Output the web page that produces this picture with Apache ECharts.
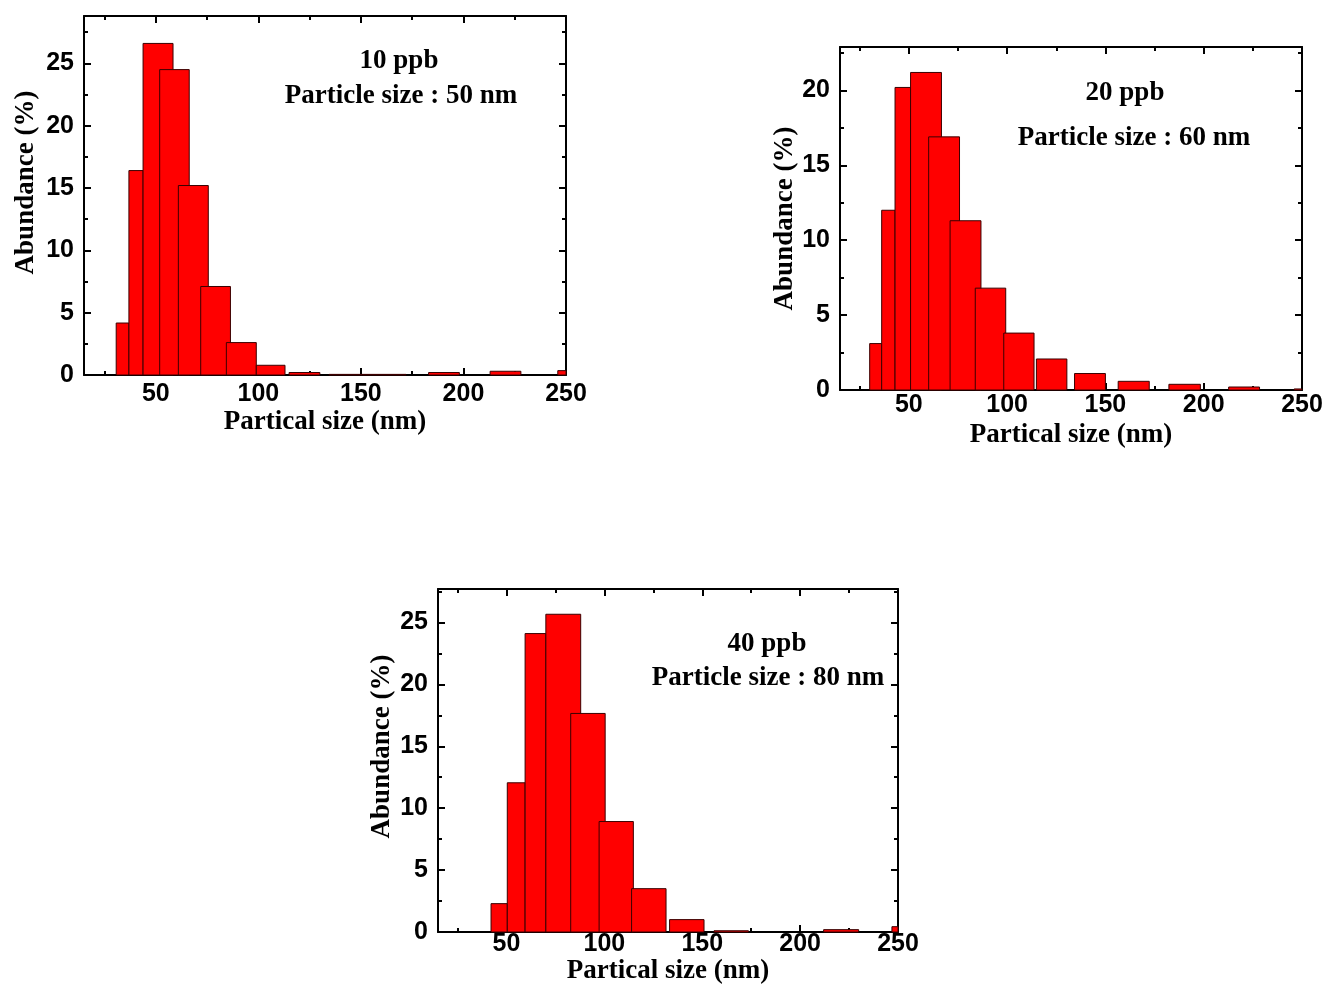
<!DOCTYPE html>
<html>
<head>
<meta charset="utf-8">
<script src="https://cdn.jsdelivr.net/npm/echarts@6/dist/echarts.min.js"></script>
<style>
  html, body { margin: 0; padding: 0; background: #fff; }
  #chart { width: 1326px; height: 990px; }
</style>
</head>
<body>
<div id="chart"></div>
<script>
// bin edges (nm) and abundance (%)
var lo10 = [30.7, 36.9, 43.8, 51.9, 61.0, 71.9, 84.4, 99.0, 115, 134.5, 183, 213, 246];
var hi10 = [36.9, 43.8, 58.4, 66.3, 75.6, 86.4, 99.0, 113, 130, 172, 198, 228, 262];
var pct10 = [4.17, 16.4, 26.6, 24.5, 15.2, 7.1, 2.6, 0.78, 0.2, 0.05, 0.2, 0.3, 0.35];

var lo20 = [30.1, 36.2, 43.0, 50.9, 60.1, 71.0, 83.8, 98.3, 114.9, 134.3, 156.5, 182.3, 212.7, 246];
var hi20 = [36.2, 43.0, 50.9, 66.6, 75.8, 86.7, 99.3, 113.7, 130.4, 150, 172.3, 198.3, 228.4, 262];
var pct20 = [3.1, 12.0, 20.2, 21.2, 16.9, 11.3, 6.8, 3.8, 2.07, 1.1, 0.58, 0.38, 0.2, 0.07];

var lo40 = [42.1, 50.4, 59.5, 70.1, 82.8, 97.3, 113.9, 133.3, 156, 212, 246.9];
var hi40 = [50.4, 59.5, 70.1, 87.9, 100.4, 114.8, 131.5, 150.9, 173.6, 229.9, 266];
var pct40 = [2.29, 12.05, 24.1, 25.66, 17.65, 8.92, 3.5, 1.0, 0.1, 0.19, 0.43];

var xMajor = [50, 100, 150, 200, 250];
var xMinor = [25, 75, 125, 175, 225];
var yMajor25 = [0, 5, 10, 15, 20, 25];
var yMajor20 = [0, 5, 10, 15, 20];
var yMinor25 = [2.5, 7.5, 12.5, 17.5, 22.5, 27.5];
var yMinor20 = [2.5, 7.5, 12.5, 17.5, 22.5];

var labels = ['10 ppb', '20 ppb', '40 ppb'];
var sizes = ['Particle size : 50 nm', 'Particle size : 60 nm', 'Particle size : 80 nm'];

var serif = '"Liberation Serif", "Times New Roman", serif';
var sans = '"Liberation Sans", Arial, sans-serif';

var panels = [
  { grid: { left: 84, top: 16, width: 482, height: 359 }, ymax: 28.8, yMaj: yMajor25, yMin: yMinor25,
    lo: lo10, hi: hi10, pct: pct10, xMargin: 7, xGap: 34, yGap: 44, yShift: 26,
    t1: [399, 61], t2: [401, 96] },
  { grid: { left: 840, top: 47, width: 462, height: 343 }, ymax: 22.9, yMaj: yMajor20, yMin: yMinor20,
    lo: lo20, hi: hi20, pct: pct20, xMargin: 3, xGap: 32, yGap: 41, yShift: 0,
    t1: [1125, 93], t2: [1134, 138] },
  { grid: { left: 438, top: 589, width: 460, height: 343 }, ymax: 27.7, yMaj: yMajor25, yMin: yMinor25,
    lo: lo40, hi: hi40, pct: pct40, xMargin: 0, xGap: 22, yGap: 42, yShift: 28,
    t1: [767, 644], t2: [768, 678] }
];

function renderBin(params, api) {
  var p0 = api.coord([api.value(0), api.value(2)]);
  var p1 = api.coord([api.value(1), 0]);
  var cs = params.coordSys;
  var shape = echarts.graphic.clipRectByRect(
    { x: p0[0], y: p0[1], width: p1[0] - p0[0], height: p1[1] - p0[1] },
    { x: cs.x, y: cs.y, width: cs.width, height: cs.height }
  );
  if (!shape) return;
  return {
    type: 'rect',
    shape: shape,
    style: { fill: '#ff0000', stroke: '#3a0000', lineWidth: 1 }
  };
}

var grids = [], xAxes = [], yAxes = [], series = [], g = [];

panels.forEach(function (p, i) {
  grids.push(p.grid);

  // x: bottom major (labels + name), bottom minor, top major, top minor
  ['bottom', 'top'].forEach(function (pos) {
    xAxes.push({
      gridIndex: i, type: 'value', min: 15, max: 250, position: pos,
      axisLine: { show: true, onZero: false, lineStyle: { color: '#000', width: 2 } },
      axisTick: { show: true, inside: true, length: 7, customValues: xMajor, lineStyle: { color: '#000', width: 2 } },
      axisLabel: pos === 'bottom'
        ? { show: true, customValues: xMajor, margin: p.xMargin, color: '#000', fontFamily: sans, fontWeight: 'bold', fontSize: 25 }
        : { show: false },
      splitLine: { show: false },
      name: pos === 'bottom' ? 'Partical size (nm)' : '',
      nameLocation: 'middle', nameGap: p.xGap,
      nameTextStyle: { color: '#000', fontFamily: serif, fontWeight: 'bold', fontSize: 27 }
    });
    xAxes.push({
      gridIndex: i, type: 'value', min: 15, max: 250, position: pos,
      axisLine: { show: false, onZero: false },
      axisTick: { show: true, inside: true, length: 4, customValues: xMinor, lineStyle: { color: '#000', width: 2 } },
      axisLabel: { show: false },
      splitLine: { show: false }
    });
  });

  ['left', 'right'].forEach(function (pos) {
    yAxes.push({
      gridIndex: i, type: 'value', min: 0, max: p.ymax, position: pos,
      axisLine: { show: true, onZero: false, lineStyle: { color: '#000', width: 2 } },
      axisTick: { show: true, inside: true, length: 7, customValues: p.yMaj, lineStyle: { color: '#000', width: 2 } },
      axisLabel: pos === 'left'
        ? { show: true, customValues: p.yMaj, margin: 10, color: '#000', fontFamily: sans, fontWeight: 'bold', fontSize: 25 }
        : { show: false },
      splitLine: { show: false },
      name: pos === 'left' ? 'Abundance (%)' : '',
      nameLocation: 'middle', nameGap: p.yGap, nameRotate: 90,
      nameTextStyle: { color: '#000', fontFamily: serif, fontWeight: 'bold', fontSize: 27,
        padding: [0, 0, 0, p.yShift] }
    });
    yAxes.push({
      gridIndex: i, type: 'value', min: 0, max: p.ymax, position: pos,
      axisLine: { show: false, onZero: false },
      axisTick: { show: true, inside: true, length: 4, customValues: p.yMin, lineStyle: { color: '#000', width: 2 } },
      axisLabel: { show: false },
      splitLine: { show: false }
    });
  });

  series.push({
    type: 'custom',
    xAxisIndex: i * 4,
    yAxisIndex: i * 4,
    renderItem: renderBin,
    encode: { x: [0, 1], y: 2 },
    data: p.lo.map(function (v, k) { return [v, p.hi[k], p.pct[k]]; }),
    silent: true
  });

  // annotation texts placed by their centres
  g.push({ type: 'text', x: p.t1[0], y: p.t1[1],
    style: { text: labels[i], align: 'center', verticalAlign: 'middle', fill: '#000', font: 'bold 27px ' + serif } });
  g.push({ type: 'text', x: p.t2[0], y: p.t2[1],
    style: { text: sizes[i], align: 'center', verticalAlign: 'middle', fill: '#000', font: 'bold 27px ' + serif } });
});

var chart = echarts.init(document.getElementById('chart'));
chart.setOption({
  animation: false,
  backgroundColor: '#fff',
  grid: grids,
  xAxis: xAxes,
  yAxis: yAxes,
  series: series,
  graphic: g
});
</script>
</body>
</html>
